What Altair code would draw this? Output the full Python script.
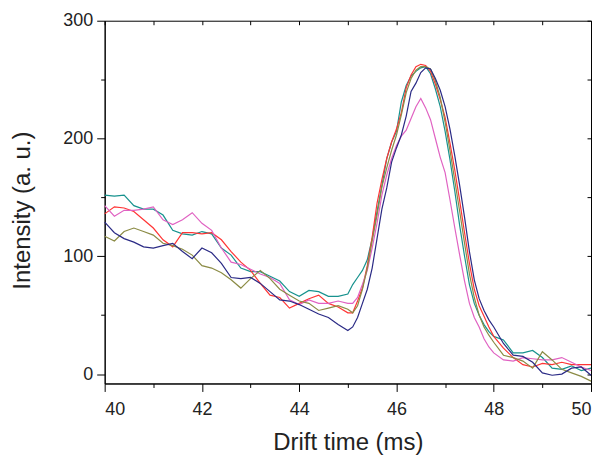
import altair as alt
import pandas as pd

time_ms = [40.0, 40.2, 40.4, 40.6, 40.8, 41.0, 41.2, 41.4, 41.6, 41.8,
           42.0, 42.2, 42.4, 42.6, 42.8, 43.0, 43.2, 43.4, 43.6, 43.8,
           44.0, 44.2, 44.4, 44.6, 44.8, 45.0,
           45.1, 45.2, 45.3, 45.4, 45.5, 45.6, 45.7, 45.8, 45.9,
           46.0, 46.1, 46.2, 46.3, 46.4, 46.5, 46.6, 46.7, 46.8, 46.9,
           47.0, 47.1, 47.2, 47.3, 47.4, 47.5, 47.6, 47.7, 47.8, 47.9,
           48.0, 48.2, 48.4, 48.6, 48.8, 49.0, 49.2, 49.4, 49.6, 49.8, 50.0]

teal = [152, 151, 152, 143, 140, 140, 135, 122, 119, 118,
        121, 119, 107, 101, 90, 87, 87, 83, 79, 70,
        66, 71, 70, 66, 66, 68,
        76, 82, 88, 97, 115, 138, 160, 183, 197,
        206, 231, 245, 253, 257, 260, 261, 255, 242, 227,
        206, 182, 155, 126, 100, 76, 60, 50, 42, 36,
        32, 29, 18, 18, 20, 14, 5, 4, 7, 3, 5]

red = [136, 142, 141, 138, 131, 124, 114, 108, 120, 120,
       119, 120, 114, 104, 95, 88, 77, 67, 65, 56,
       60, 64, 67, 60, 57, 52,
       52, 62, 73, 92, 116, 145, 165, 183, 197,
       208, 222, 243, 254, 261, 263, 262, 257, 246, 233,
       218, 196, 173, 147, 120, 94, 72, 58, 49, 40,
       32, 22, 14, 8, 6, 9, 8, 10, 8, 8, 8]

pink = [143, 134, 139, 139, 140, 142, 131, 127, 131, 137,
        128, 122, 107, 95, 93, 89, 85, 82, 77, 63,
        59, 63, 60, 60, 62, 60,
        60, 65, 76, 88, 107, 128, 152, 169, 183,
        194, 202, 207, 217, 227, 234, 226, 216, 200, 184,
        171, 148, 124, 101, 79, 60, 48, 40, 30, 23,
        18, 12, 11, 14, 13, 12, 12, 14, 10, 6, 3]

olive = [117, 113, 121, 124, 121, 118, 111, 109, 106, 101,
         92, 90, 86, 80, 73, 81, 88, 81, 72, 67,
         62, 60, 54, 56, 58, 55,
         52, 58, 72, 90, 113, 135, 159, 175, 190,
         203, 220, 239, 251, 258, 261, 261, 259, 249, 235,
         214, 190, 164, 138, 111, 85, 65, 50, 40, 33,
         27, 16, 14, 11, 5, 19, 12, 4, 1, -2, -6]

navy = [129, 120, 115, 112, 108, 107, 109, 111, 104, 98,
        107, 103, 94, 82, 81, 82, 77, 70, 63, 62,
        59, 55, 51, 48, 42, 37,
        40, 48, 60, 72, 90, 115, 140, 158, 180,
        192, 203, 219, 240, 247, 256, 260, 259, 251, 241,
        227, 208, 185, 160, 133, 104, 80, 64, 54, 46,
        40, 26, 16, 15, 10, 1, -1, 0, 5, 6, -1]

series_names = ["s1", "s2", "s3", "s4", "s5"]
series_values = [teal, red, pink, olive, navy]
series_colors = ["#17928e", "#ff3535", "#e062c2", "#8b8b45", "#2a2a85"]

x_major = [40, 42, 44, 46, 48, 50]
x_minor = [41, 43, 45, 47, 49]
x_all = list(range(40, 51))
y_major = [0, 100, 200, 300]
y_minor = [50, 150, 250]
y_all = list(range(0, 301, 50))

rows = []
for name, vals in zip(series_names, series_values):
    for t, v in zip(time_ms, vals):
        rows.append({"t": t, "v": v, "s": name})
df = pd.DataFrame(rows)

x_scale = alt.Scale(domain=[40, 50], nice=False, zero=False)
y_scale = alt.Scale(domain=[-8, 300], nice=False, zero=False)
color_scale = alt.Scale(domain=series_names, range=series_colors)

lines = alt.Chart(df).mark_line(strokeWidth=1.2).encode(
    x=alt.X("t:Q", scale=x_scale,
            axis=alt.Axis(orient="bottom", values=x_major, title="Drift time (ms)",
                          tickSize=8, labelPadding=9, titlePadding=12, grid=False)),
    y=alt.Y("v:Q", scale=y_scale,
            axis=alt.Axis(orient="left", values=y_major, title="Intensity (a. u.)",
                          tickSize=8, labelPadding=4, titlePadding=28, titleY=190,
                          grid=False)),
    color=alt.Color("s:N", scale=color_scale, legend=None),
    detail="s:N",
)

minor_axes = alt.Chart(df).mark_line(opacity=0).encode(
    x=alt.X("t:Q", scale=x_scale,
            axis=alt.Axis(orient="bottom", values=x_minor, labels=False, domain=False,
                          tickSize=4, title=None, grid=False)),
    y=alt.Y("v:Q", scale=y_scale,
            axis=alt.Axis(orient="left", values=y_minor, labels=False, domain=False,
                          tickSize=4, title=None, grid=False)),
    detail="s:N",
)

frame_axes = alt.Chart(df).mark_line(opacity=0).encode(
    x=alt.X("t:Q", scale=x_scale,
            axis=alt.Axis(orient="top", values=x_all, labels=False, domain=False,
                          tickSize=4, offset=-4, title=None, grid=False)),
    y=alt.Y("v:Q", scale=y_scale,
            axis=alt.Axis(orient="right", values=y_all, labels=False, domain=False,
                          tickSize=4, offset=-4, title=None, grid=False)),
    detail="s:N",
)

chart = alt.layer(lines, minor_axes, frame_axes).resolve_axis(
    x="independent", y="independent"
).properties(
    width=488, height=364,
    padding={"left": 2, "top": 3, "right": 0, "bottom": 0},
).configure_view(
    stroke="black", strokeWidth=1
).configure_axis(
    domainColor="black", tickColor="black", labelColor="#222222",
    titleColor="#222222", labelFont="Liberation Sans", titleFont="Liberation Sans",
    labelFontSize=18, titleFontSize=24, titleFontWeight="normal",
)

chart.save("out.html", embed_options={"renderer": "svg", "actions": False})
